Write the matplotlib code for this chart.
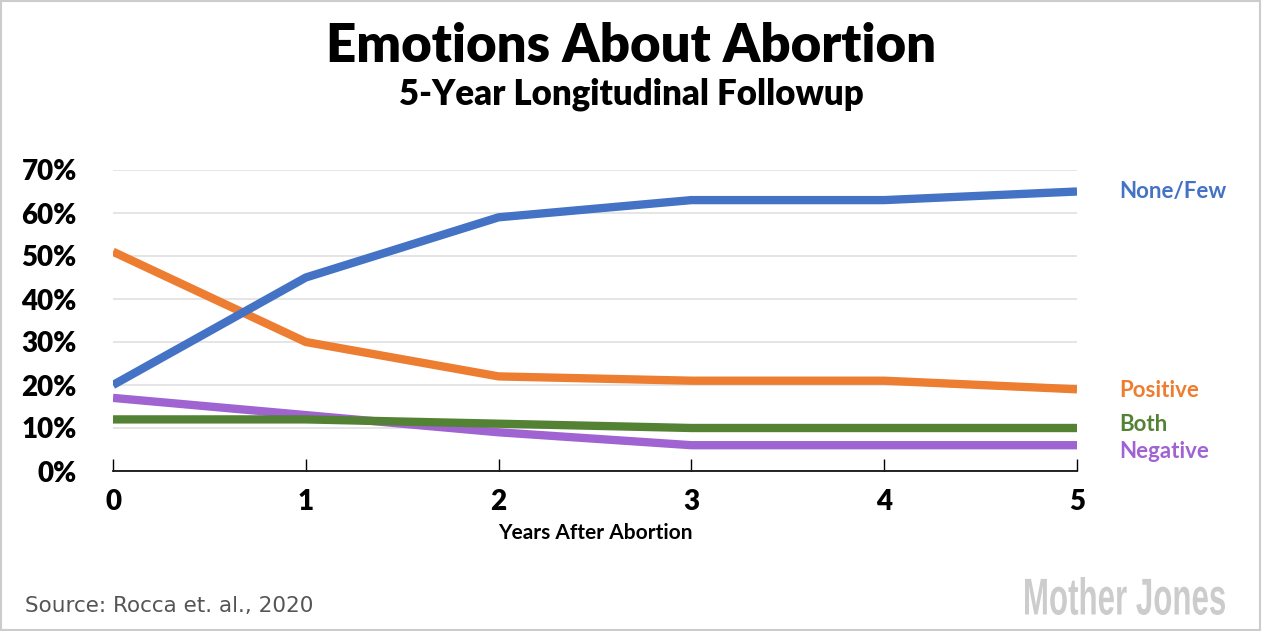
import matplotlib.pyplot as plt
from matplotlib.patches import Rectangle, PathPatch
from matplotlib.textpath import TextPath
from matplotlib.font_manager import FontProperties
from matplotlib.transforms import Affine2D

years = [0, 1, 2, 3, 4, 5]
none_few = [20, 45, 59, 63, 63, 65]
positive = [51, 30, 22, 21, 21, 19]
both = [12, 12, 11, 10, 10, 10]
negative = [17, 13, 9, 6, 6, 6]

series = [
    ("None/Few", none_few, "#4472c4"),
    ("Positive", positive, "#ed7d31"),
    ("Both", both, "#548235"),
    ("Negative", negative, "#a064d2"),
]
label_y = {"None/Few": 65, "Positive": 18.7, "Both": 10.8, "Negative": 4.6}

plt.rcParams['font.family'] = ['Lato', 'DejaVu Sans']

fig = plt.figure(figsize=(12.62, 6.31), dpi=100)
ax = fig.add_axes([113 / 1262, 160 / 631, 964 / 1262, 301 / 631])

for name, vals, col in series[::-1]:
    ax.plot(years, vals, color=col, lw=6, solid_capstyle='butt', zorder=3)
for name, vals, col in series:
    ax.text(5.22, label_y[name], name, color=col, fontsize=16, fontweight='bold',
            va='center', ha='left', clip_on=False)

ax.set_xlim(0, 5)
ax.set_ylim(0, 70)
ax.set_yticks(range(0, 71, 10))
ax.set_yticklabels([f"{v}%" for v in range(0, 71, 10)])
ax.set_xticks(years)
ax.grid(axis='y', color='#e0e0e0', lw=1.2)
ax.set_axisbelow(True)
for s in ['top', 'right', 'left']:
    ax.spines[s].set_visible(False)
ax.spines['bottom'].set_color('black')
ax.spines['bottom'].set_linewidth(1.2)
ax.tick_params(axis='y', length=0, pad=26, labelsize=20)
ax.tick_params(axis='x', direction='in', length=9, width=1, pad=13, labelsize=20)
for lbl in ax.get_xticklabels() + ax.get_yticklabels():
    lbl.set_fontweight('heavy')
ax.set_xlabel("Years After Abortion", fontsize=15, fontweight='bold', labelpad=6)

fig.text(0.5, 1 - 47 / 631, "Emotions About Abortion", ha='center', va='center',
         fontsize=38, fontweight='heavy')
fig.text(0.5, 1 - 94 / 631, "5-Year Longitudinal Followup", ha='center', va='center',
         fontsize=25, fontweight='heavy')
fig.text(25 / 1262, 1 - 606 / 631, "Source: Rocca et. al., 2020", ha='left', va='center',
         fontsize=15.5, color='#555555', family='DejaVu Sans')

# condensed logo: squeeze a bold text path into the logo box
tp = TextPath((0, 0), "Mother Jones", size=10,
              prop=FontProperties(family='Liberation Sans', weight='bold'))
ext = tp.get_extents()
x0, x1 = 1025 / 1262, 1225 / 1262
y0, y1 = (631 - 615) / 631, (631 - 577) / 631
tr = (Affine2D().translate(-ext.x0, -ext.y0)
      .scale((x1 - x0) / ext.width, (y1 - y0) / ext.height)
      .translate(x0, y0))
fig.patches.append(PathPatch(tr.transform_path(tp), transform=fig.transFigure,
                             facecolor='#cccccc', edgecolor='none'))

fig.patches.append(Rectangle((0.0005, 0.001), 0.998, 0.997, transform=fig.transFigure,
                             fill=False, edgecolor='#cccccc', lw=1.5))

fig.savefig("out.png", dpi=100)
